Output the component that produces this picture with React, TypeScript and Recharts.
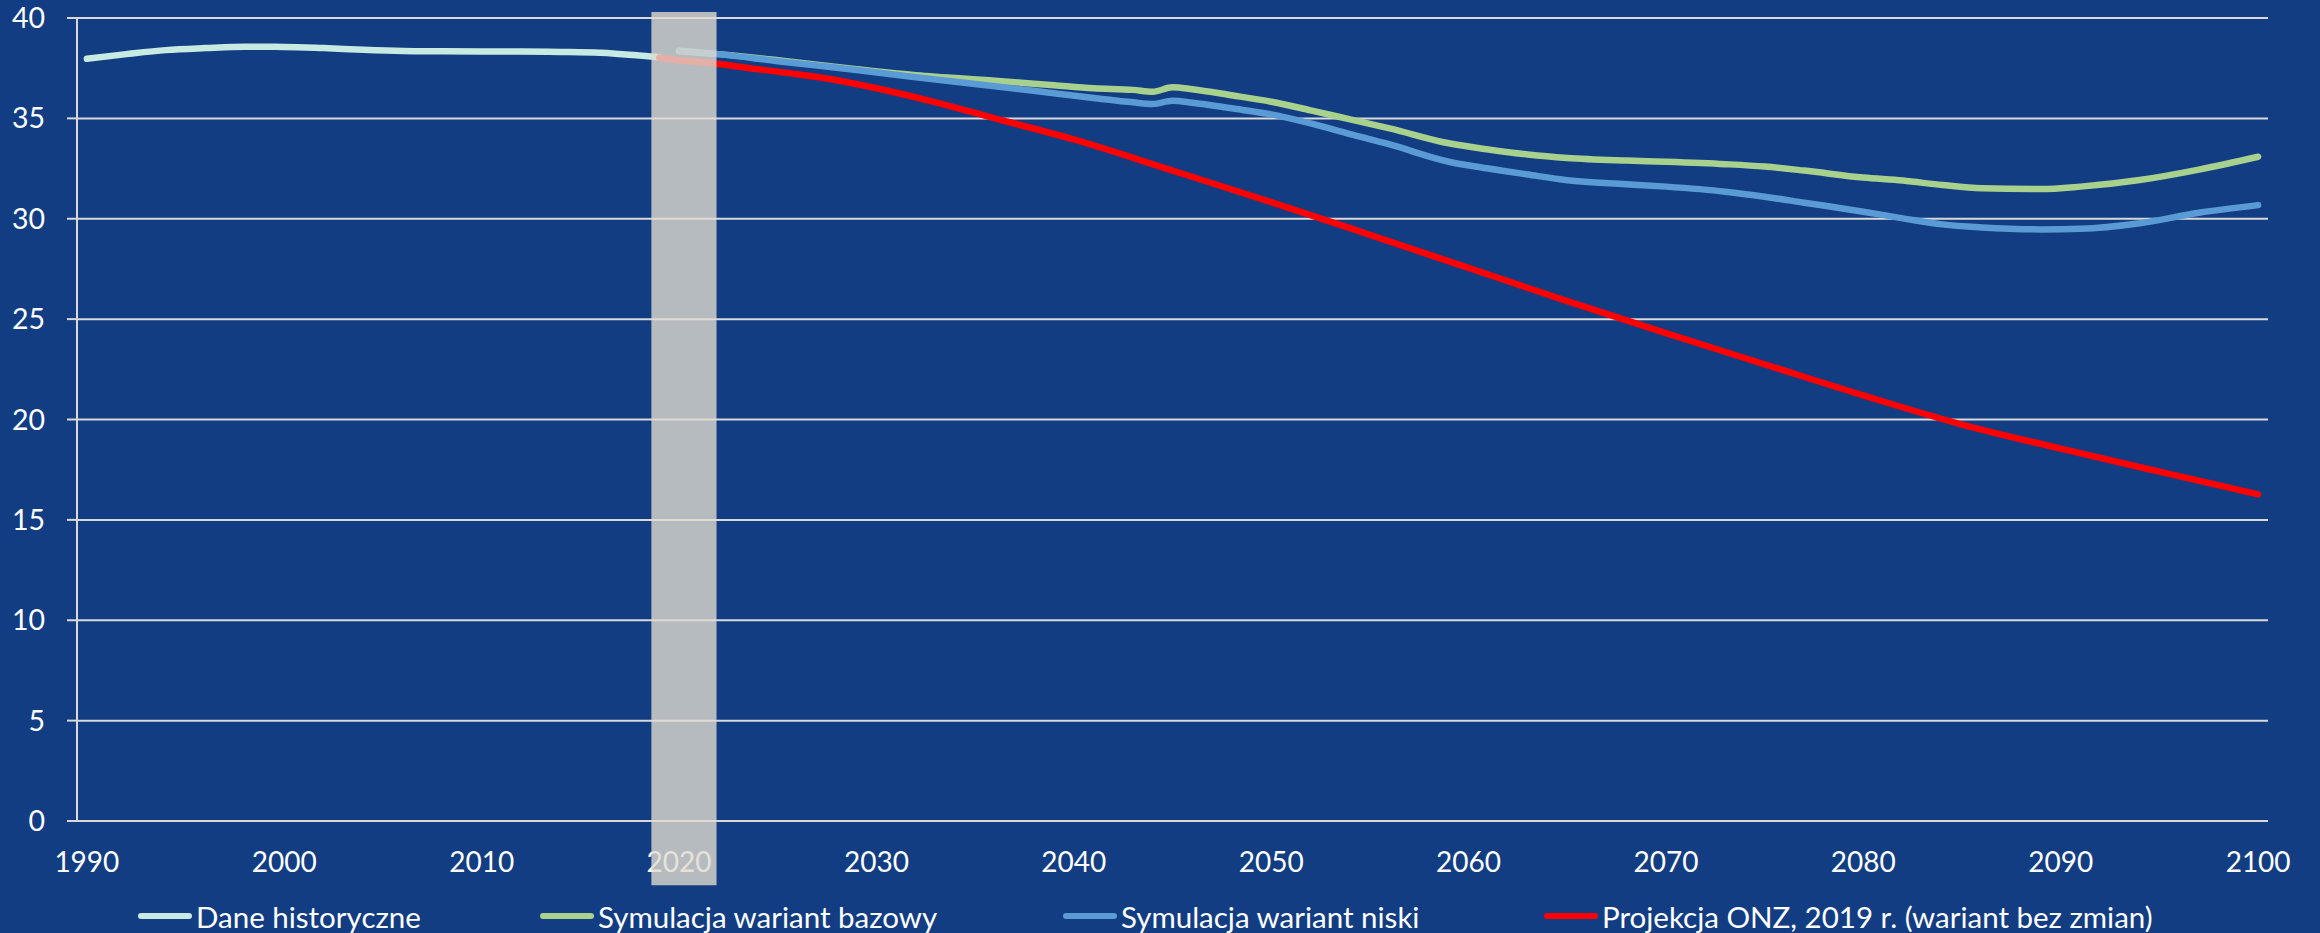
import React from 'react';
import { LineChart, Line, XAxis, YAxis, CartesianGrid, ReferenceArea } from 'recharts';

// values
const histYears = [1990, 1992, 1994, 1996, 1998, 2000, 2002, 2004, 2006, 2008, 2010, 2012, 2014, 2016, 2018, 2019];
const histValues = [37.97, 38.2, 38.4, 38.5, 38.57, 38.56, 38.5, 38.42, 38.36, 38.34, 38.33, 38.33, 38.31, 38.27, 38.13, 38.04];

const simYears = [2020, 2022, 2025, 2029, 2032, 2036, 2039, 2041, 2043, 2044, 2045, 2046, 2048, 2050, 2052, 2054, 2056, 2059, 2061, 2063, 2065, 2068, 2070, 2073, 2075, 2077, 2080, 2082, 2084, 2086, 2089, 2091, 2094, 2097, 2100];
const baseValues = [38.36, 38.2, 37.9, 37.45, 37.15, 36.88, 36.65, 36.5, 36.42, 36.33, 36.55, 36.45, 36.15, 35.83, 35.4, 34.95, 34.5, 33.76, 33.45, 33.2, 33.03, 32.9, 32.84, 32.72, 32.6, 32.4, 32.05, 31.9, 31.68, 31.52, 31.48, 31.6, 31.93, 32.45, 33.09];
const lowValues = [38.37, 38.2, 37.85, 37.41, 37.05, 36.6, 36.25, 36.02, 35.8, 35.72, 35.88, 35.78, 35.5, 35.2, 34.75, 34.22, 33.7, 32.84, 32.5, 32.2, 31.92, 31.72, 31.6, 31.35, 31.1, 30.8, 30.35, 30.02, 29.72, 29.57, 29.47, 29.5, 29.78, 30.3, 30.68];

const onzYears = [2019, 2020, 2022, 2024, 2026, 2028, 2030, 2033, 2036, 2040, 2045, 2050, 2055, 2060, 2065, 2070, 2075, 2080, 2085, 2090, 2095, 2100];
const onzValues = [38.02, 37.9, 37.71, 37.45, 37.2, 36.9, 36.5, 35.8, 35.0, 33.95, 32.4, 30.83, 29.2, 27.55, 25.9, 24.3, 22.75, 21.2, 19.75, 18.55, 17.4, 16.27];

const xTicks = [1990, 2000, 2010, 2020, 2030, 2040, 2050, 2060, 2070, 2080, 2090, 2100];
const yTicks = [0, 5, 10, 15, 20, 25, 30, 35, 40];

// shaded period around 2020
const bandYears = [2018.6, 2021.9];

const toRows = (years: number[], values: number[]) => years.map((year, i) => ({ year, value: values[i] }));

const series = [
  { name: 'Dane historyczne', color: '#c7ebe3', data: toRows(histYears, histValues), legendX: 138 },
  { name: 'Symulacja wariant bazowy', color: '#a9d18e', data: toRows(simYears, baseValues), legendX: 540 },
  { name: 'Symulacja wariant niski', color: '#5b9bd5', data: toRows(simYears, lowValues), legendX: 1063 },
  { name: 'Projekcja ONZ, 2019 r. (wariant bez zmian)', color: '#ff0000', data: toRows(onzYears, onzValues), legendX: 1544 },
];

const FONT = 'Lato, sans-serif';
const GRID = '#d9d9d9';

export default function App() {
  return (
    <div style={{ position: 'absolute', left: 0, top: 0, width: 2320, height: 933, background: '#133d82', fontFamily: FONT, overflow: 'hidden' }}>
      <LineChart width={2320} height={933} margin={{ top: 18, right: 52, bottom: 0, left: 0 }}>
        <CartesianGrid vertical={false} stroke={GRID} strokeWidth={2} />
        <XAxis
          type="number"
          dataKey="year"
          domain={[1989.5, 2100.5]}
          ticks={xTicks}
          allowDataOverflow
          height={112}
          tickLine={false}
          tickSize={0}
          tickMargin={31}
          axisLine={{ stroke: GRID, strokeWidth: 2 }}
          tick={{ fill: '#ffffff', fontSize: 28, fontFamily: FONT }}
        />
        <YAxis
          type="number"
          domain={[0, 40]}
          ticks={yTicks}
          width={77}
          tickSize={10}
          tickMargin={22}
          tickLine={{ stroke: GRID, strokeWidth: 2 }}
          axisLine={{ stroke: GRID, strokeWidth: 2 }}
          tick={{ fill: '#ffffff', fontSize: 28.5, fontFamily: FONT }}
        />
        {series.map((s) => (
          <Line
            key={s.name}
            data={s.data}
            dataKey="value"
            name={s.name}
            type="monotone"
            stroke={s.color}
            strokeWidth={6.5}
            strokeLinecap="round"
            dot={false}
            activeDot={false}
            isAnimationActive={false}
          />
        ))}
        <ReferenceArea
          x1={bandYears[0]}
          x2={bandYears[1]}
          y1={-3.2}
          y2={40.3}
          ifOverflow="visible"
          fill="#e0dbcf"
          fillOpacity={0.8}
          stroke="none"
          zIndex={3000}
        />
      </LineChart>
      {series.map((s) => (
        <div key={s.name} style={{ position: 'absolute', left: s.legendX, top: 899, height: 34, display: 'flex', alignItems: 'center' }}>
          <div style={{ width: 54, height: 6.5, borderRadius: 3, background: s.color }} />
          <span style={{ marginLeft: 4, color: '#ffffff', fontSize: 29.5, whiteSpace: 'nowrap' }}>{s.name}</span>
        </div>
      ))}
    </div>
  );
}
